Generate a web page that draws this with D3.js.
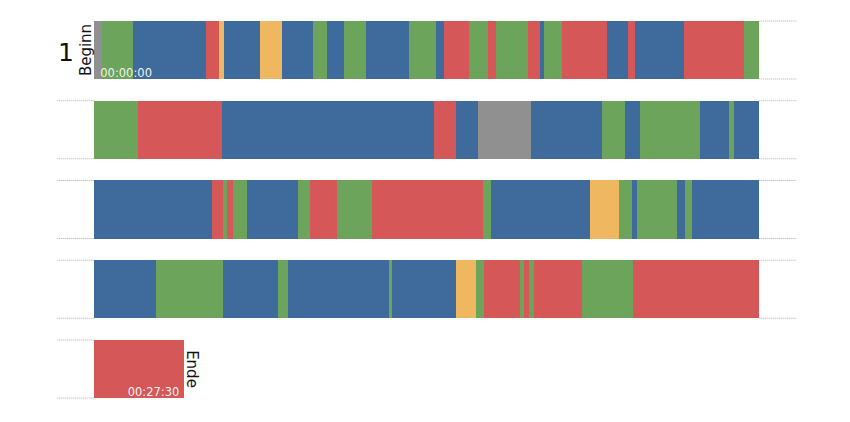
<!DOCTYPE html>
<html>
<head>
<meta charset="utf-8">
<script src="https://cdn.jsdelivr.net/npm/d3@7"></script>
<style>
  html, body { margin: 0; padding: 0; background: #fff; }
  svg { display: block; }
  text { font-family: "DejaVu Sans", sans-serif; }
</style>
</head>
<body>
<svg id="chart" width="850" height="422"></svg>
<script>
// ---- data ----
const categories = ["grau", "grün", "blau", "rot", "gelb"];
const categoryColors = ["#8f908f", "#6ba45a", "#3e6b9c", "#d55757", "#efb760"];
const rowSeconds = 399;        // seconds shown per row
const totalSeconds = 1650;     // 00:27:30
// segment start times (seconds) and their category
const segStart = [
  0, 4.4, 23, 67, 75, 78, 99.4, 112.6, 131.4, 139.6, 149.8, 162.8, 188.8, 205, 210, 224.8,
  236, 241, 260.4, 267.4, 270, 280.4, 307.6, 320.4, 324.6, 353.8, 389.8,
  425, 475.4, 603, 616, 629, 661, 703.4, 717.4, 726.4, 762.4, 779.8, 782.8,
  868.4, 875, 877.4, 881.4, 889.4, 920.4, 927.4, 943.8, 964.8, 1031, 1036, 1095.4,
  1112.8, 1120.6, 1123.4, 1147.8, 1152.4, 1156.8,
  1234, 1274.2, 1307.4, 1313.4, 1373.8, 1375.8, 1414, 1426, 1431, 1452.4, 1455, 1458,
  1461, 1489.4, 1520.4
];
const segType = [
  "grau", "grün", "blau", "rot", "gelb", "blau", "gelb", "blau", "grün", "blau", "grün", "blau", "grün", "blau", "rot", "grün",
  "rot", "grün", "rot", "blau", "grün", "rot", "blau", "rot", "blau", "rot", "grün",
  "rot", "blau", "rot", "blau", "grau", "blau", "grün", "blau", "grün", "blau", "grün", "blau",
  "rot", "grün", "rot", "grün", "blau", "grün", "rot", "grün", "rot", "grün", "blau", "gelb",
  "grün", "blau", "grün", "blau", "grün", "blau",
  "grün", "blau", "grün", "blau", "grün", "blau", "gelb", "grün", "rot", "grün", "rot", "grün",
  "rot", "grün", "rot"
];
const startLabel = "00:00:00";
const endLabel = "00:27:30";
const rowNumberLabel = "1";
const beginLabel = "Beginn";
const endWord = "Ende";

// ---- build pieces split across rows ----
const nRows = Math.ceil(totalSeconds / rowSeconds);
const pieces = [];
segStart.forEach((s, i) => {
  const e = i + 1 < segStart.length ? segStart[i + 1] : totalSeconds;
  let a = s;
  while (a < e) {
    const row = Math.floor(a / rowSeconds + 1e-9);
    const rowEnd = (row + 1) * rowSeconds;
    const b = Math.min(e, rowEnd);
    pieces.push({ row, t0: a - row * rowSeconds, t1: b - row * rowSeconds, type: segType[i] });
    a = b;
  }
});

// ---- scales ----
const svg = d3.select("#chart");
const x = d3.scaleLinear().domain([0, rowSeconds]).range([94.3, 759.3]);
const y = d3.scaleBand().domain(d3.range(nRows)).range([21, 21 + 4 * 79.75 + 58]).paddingInner(0.2727).paddingOuter(0);
const color = d3.scaleOrdinal().domain(categories).range(categoryColors);

// dotted guide lines
const guide = svg.append("g").attr("stroke", "#b0b0b0").attr("stroke-width", 1).attr("stroke-dasharray", "1,1");
d3.range(nRows).forEach(r => {
  const full = (r + 1) * rowSeconds <= totalSeconds;
  [y(r), y(r) + y.bandwidth()].forEach(yy => {
    if (full) guide.append("line").attr("x1", x(rowSeconds)).attr("x2", x(rowSeconds) + 37).attr("y1", yy).attr("y2", yy);
    if (r > 0) guide.append("line").attr("x1", x(0) - 37).attr("x2", x(0)).attr("y1", yy).attr("y2", yy);
  });
});

// bars
svg.append("g").selectAll("rect").data(pieces).join("rect")
  .attr("x", d => x(d.t0))
  .attr("y", d => y(d.row))
  .attr("width", d => x(d.t1) - x(d.t0))
  .attr("height", y.bandwidth())
  .attr("fill", d => color(d.type))
  .attr("shape-rendering", "crispEdges");

// labels
const r0 = y(0), bh = y.bandwidth();
svg.append("text").attr("x", 66).attr("y", r0 + 40).attr("text-anchor", "middle")
  .attr("font-size", 25).attr("fill", "#111").text(rowNumberLabel);
svg.append("text").attr("transform", `translate(${x(0) - 3},${r0 + bh / 2}) rotate(-90)`)
  .attr("text-anchor", "middle").attr("font-size", 15).attr("fill", "#111").text(beginLabel);
svg.append("text").attr("x", x(0) + 6).attr("y", r0 + bh - 2.5)
  .attr("font-size", 11.5).attr("fill", "#f2f2f2").text(startLabel);

const lastRow = nRows - 1;
const endX = x(totalSeconds - lastRow * rowSeconds);
svg.append("text").attr("x", endX - 5).attr("y", y(lastRow) + bh - 2.5).attr("text-anchor", "end")
  .attr("font-size", 11.5).attr("fill", "#f2f2f2").text(endLabel);
svg.append("text").attr("transform", `translate(${endX + 3},${y(lastRow) + bh / 2}) rotate(90)`)
  .attr("text-anchor", "middle").attr("font-size", 15).attr("fill", "#111").text(endWord);
</script>
</body>
</html>
